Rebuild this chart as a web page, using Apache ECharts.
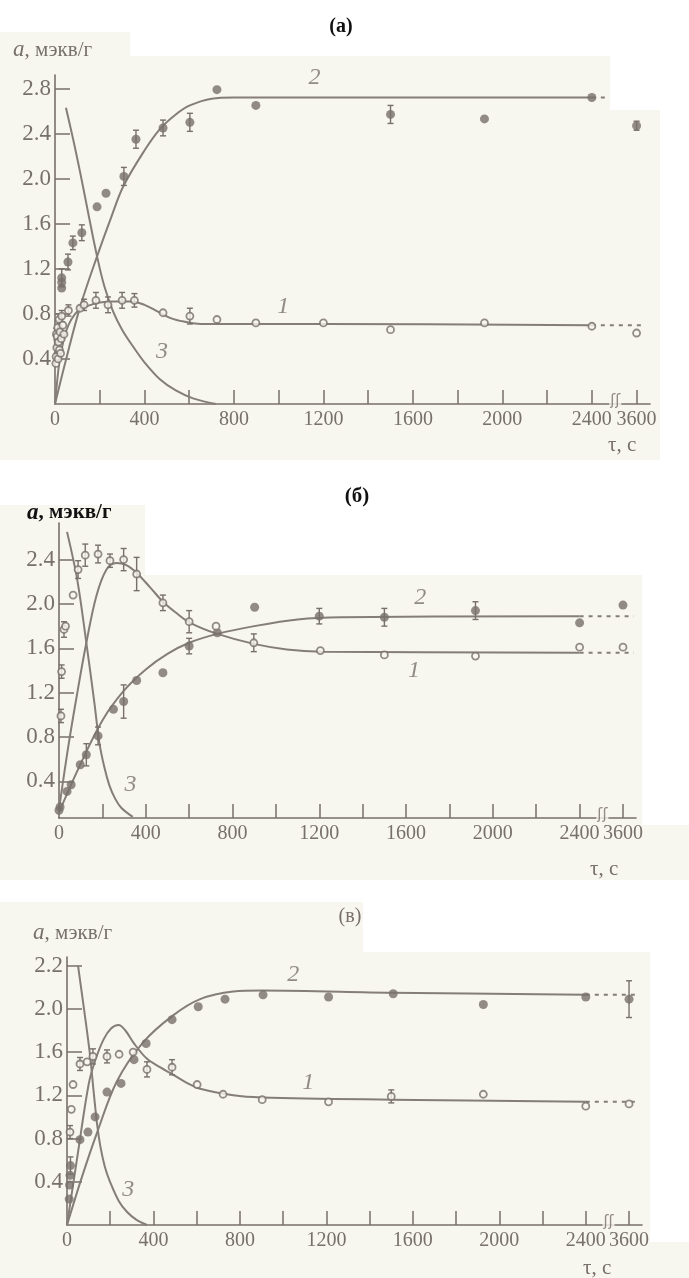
<!DOCTYPE html>
<html>
<head>
<meta charset="utf-8">
<script src="https://cdn.jsdelivr.net/npm/echarts@6/dist/echarts.min.js"></script>
<style>
  html, body { margin: 0; padding: 0; background: #fff; }
  #chart { width: 689px; height: 1278px; }
</style>
</head>
<body>
<div id="chart"></div>
<script>
// --- axis ticks / labels (3600 is drawn at the break position 2600)
const xTickValues = [200, 400, 600, 800, 1000, 1200, 1400, 1600, 1800, 2000, 2200, 2400, 2600];
const xLabelValues = [0, 400, 800, 1200, 1600, 2000, 2400, 2600];
const xLabelText = ['0', '400', '800', '1200', '1600', '2000', '2400', '3600'];
const yLabelsA = [0.4, 0.8, 1.2, 1.6, 2.0, 2.4, 2.8];
const yLabelsB = [0.4, 0.8, 1.2, 1.6, 2.0, 2.4];
const yLabelsV = [0.4, 0.8, 1.2, 1.6, 2.0, 2.4];
const yTextV = ['0.4', '0.8', '1.2', '1.6', '2.0', '2.2'];

// --- panel (a): fitted curves [t, a]
const aCurve1 = [[0, 0], [20, 0.38], [40, 0.58], [60, 0.7], [90, 0.8], [120, 0.85], [160, 0.88], [200, 0.9], [260, 0.91], [340, 0.91], [400, 0.88], [460, 0.82], [520, 0.76], [580, 0.73], [650, 0.71], [800, 0.71], [1200, 0.71], [2400, 0.7]];
const aCurve2 = [[0, 0], [50, 0.4], [112, 0.86], [188, 1.31], [250, 1.65], [305, 1.93], [400, 2.25], [469, 2.44], [540, 2.57], [603, 2.65], [700, 2.71], [800, 2.72], [1200, 2.72], [2400, 2.72]];
const aCurve3 = [[49, 2.63], [80, 2.36], [112, 2.06], [150, 1.68], [188, 1.31], [220, 1.05], [260, 0.82], [300, 0.66], [349, 0.51], [400, 0.37], [469, 0.22], [540, 0.12], [617, 0.05], [720, 0]];
const aExt1 = [[2400, 0.7], [2630, 0.7]];
const aExt2 = [[2400, 2.72], [2470, 2.72]];
// points [t, a, error]
const aOpen = [[4, 0.36, 0], [5, 0.42, 0], [6, 0.62, 0.05], [8, 0.5, 0.05], [10, 0.6, 0], [12, 0.68, 0.06], [14, 0.4, 0], [15, 0.55, 0], [18, 0.75, 0.05], [20, 0.48, 0], [22, 0.64, 0], [25, 0.45, 0], [28, 0.58, 0], [30, 0.78, 0.05], [35, 0.7, 0], [40, 0.62, 0], [60, 0.83, 0.05], [112, 0.85, 0], [130, 0.88, 0.05], [183, 0.92, 0.07], [237, 0.88, 0.07], [300, 0.92, 0.07], [355, 0.92, 0.06], [483, 0.81, 0], [603, 0.78, 0.07], [724, 0.75, 0], [898, 0.72, 0], [1200, 0.72, 0], [1500, 0.66, 0], [1920, 0.72, 0], [2400, 0.69, 0], [3600, 0.63, 0]];
const aFilled = [[30, 1.03, 0], [30, 1.08, 0], [30, 1.12, 0.08], [58, 1.26, 0.07], [80, 1.43, 0.06], [120, 1.52, 0.07], [188, 1.75, 0], [228, 1.87, 0], [308, 2.02, 0.08], [362, 2.35, 0.08], [483, 2.45, 0.07], [603, 2.5, 0.08], [724, 2.79, 0], [898, 2.65, 0], [1500, 2.57, 0.08], [1920, 2.53, 0], [2400, 2.72, 0], [3600, 2.47, 0.04]];
const aTags = [['2', 1160, 2.9], ['1', 1020, 0.86], ['3', 478, 0.46]];

// --- panel (б)
const bCurve1 = [[0, 0.15], [40, 0.68], [80, 1.15], [126, 1.65], [172, 2.07], [219, 2.31], [265, 2.37], [310, 2.35], [358, 2.28], [420, 2.15], [479, 2.02], [540, 1.92], [605, 1.83], [730, 1.73], [898, 1.64], [1050, 1.59], [1209, 1.57], [2400, 1.56]];
const bCurve2 = [[0, 0.12], [100, 0.56], [200, 0.95], [300, 1.22], [400, 1.41], [500, 1.55], [600, 1.65], [730, 1.73], [900, 1.8], [1100, 1.86], [1300, 1.88], [2400, 1.89]];
const bCurve3 = [[37, 2.65], [84, 2.22], [126, 1.65], [163, 1.11], [186, 0.75], [210, 0.52], [233, 0.36], [260, 0.24], [288, 0.16], [340, 0.08]];
const bExt1 = [[2400, 1.56], [2650, 1.56]];
const bExt2 = [[2400, 1.89], [2650, 1.89]];
const bOpen = [[9, 0.99, 0.06], [12, 1.39, 0.06], [23, 1.77, 0.07], [30, 1.8, 0], [65, 2.08, 0], [88, 2.31, 0.08], [121, 2.44, 0.1], [180, 2.45, 0.08], [235, 2.39, 0.06], [298, 2.4, 0.1], [358, 2.27, 0.15], [479, 2.01, 0.07], [600, 1.84, 0.1], [724, 1.8, 0], [898, 1.65, 0.08], [1205, 1.58, 0], [1500, 1.54, 0], [1920, 1.53, 0], [2400, 1.61, 0], [3600, 1.61, 0]];
const bFilled = [[0, 0.14, 0], [5, 0.17, 0], [37, 0.31, 0], [56, 0.37, 0], [98, 0.55, 0], [126, 0.64, 0.1], [180, 0.81, 0.08], [251, 1.05, 0], [298, 1.12, 0.15], [358, 1.31, 0], [479, 1.38, 0], [600, 1.62, 0.07], [730, 1.74, 0], [902, 1.97, 0], [1200, 1.89, 0.07], [1500, 1.88, 0.08], [1920, 1.94, 0.08], [2400, 1.83, 0], [3600, 1.99, 0]];
const bTags = [['2', 1665, 2.06], ['1', 1637, 1.4], ['3', 330, 0.37]];

// --- panel (в)
const vCurve1 = [[0, 0], [50, 0.66], [100, 1.3], [130, 1.52], [170, 1.72], [205, 1.82], [238, 1.85], [270, 1.8], [310, 1.68], [369, 1.54], [430, 1.46], [492, 1.39], [550, 1.32], [616, 1.26], [769, 1.2], [900, 1.18], [1500, 1.16], [2400, 1.14]];
const vCurve2 = [[0, 0], [70, 0.45], [140, 0.86], [231, 1.33], [352, 1.69], [491, 1.94], [616, 2.09], [769, 2.16], [900, 2.17], [1500, 2.15], [2400, 2.13]];
const vCurve3 = [[51, 2.4], [80, 1.98], [106, 1.58], [125, 1.2], [140, 0.92], [155, 0.72], [175, 0.54], [199, 0.4], [240, 0.22], [278, 0.12], [320, 0.05], [370, 0]];
const vExt1 = [[2400, 1.14], [2640, 1.14]];
const vExt2 = [[2400, 2.13], [2640, 2.13]];
const vOpen = [[14, 0.86, 0.06], [20, 1.07, 0], [28, 1.3, 0], [60, 1.49, 0.06], [93, 1.51, 0], [120, 1.56, 0.07], [185, 1.56, 0.06], [241, 1.58, 0], [306, 1.6, 0], [370, 1.44, 0.07], [486, 1.46, 0.07], [602, 1.3, 0], [722, 1.21, 0], [903, 1.16, 0], [1210, 1.14, 0], [1500, 1.19, 0.06], [1926, 1.21, 0], [2400, 1.1, 0], [3600, 1.12, 0]];
const vFilled = [[10, 0.24, 0], [12, 0.37, 0], [14, 0.46, 0], [16, 0.55, 0.08], [60, 0.79, 0], [97, 0.86, 0], [130, 1.0, 0], [185, 1.23, 0], [250, 1.31, 0], [310, 1.53, 0], [366, 1.68, 0], [486, 1.9, 0], [607, 2.02, 0], [731, 2.09, 0], [907, 2.13, 0], [1210, 2.11, 0], [1509, 2.14, 0], [1926, 2.04, 0], [2400, 2.11, 0], [3600, 2.09, 0.17]];
const vTags = [['2', 1047, 2.32], ['1', 1116, 1.32], ['3', 283, 0.33]];

const GRAY = '#78706a';
const LINE = '#857e78';
const CREAM = '#f7f6ef';
const FONT = 'Liberation Serif';

// 3600 sits just after the axis break
const pos = t => (t > 2400 ? 2600 : t);

const chart = echarts.init(document.getElementById('chart'));

function grid(left, top, width, height) {
    return { left: left, top: top, width: width, height: height, containLabel: false };
}

function xAxis(i) {
    return {
        gridIndex: i, type: 'value', min: 0, max: 2660,
        axisLine: { onZero: false, lineStyle: { color: GRAY, width: 1.6 } },
        axisTick: { inside: true, length: 14, customValues: xTickValues, lineStyle: { color: GRAY, width: 1.5 } },
        axisLabel: {
            customValues: xLabelValues, margin: 6, color: GRAY, fontFamily: FONT, fontSize: 20,
            formatter: v => xLabelText[xLabelValues.indexOf(v)]
        },
        splitLine: { show: false }
    };
}

function yAxis(i, min, max, labels, texts) {
    return {
        gridIndex: i, type: 'value', min: min, max: max,
        axisLine: { onZero: false, lineStyle: { color: GRAY, width: 1.6 } },
        axisTick: { inside: true, length: 15, customValues: labels, lineStyle: { color: GRAY, width: 1.5 } },
        axisLabel: {
            customValues: labels, margin: 4, color: GRAY, fontFamily: FONT, fontSize: 23,
            formatter: v => {
                const k = labels.findIndex(l => Math.abs(l - v) < 1e-6);
                return texts ? texts[k] : v.toFixed(1);
            }
        },
        splitLine: { show: false }
    };
}

function curve(i, data, dashed) {
    return {
        type: 'line', xAxisIndex: i, yAxisIndex: i, data: data, smooth: dashed ? false : 0.35,
        showSymbol: false, silent: true, z: 3,
        lineStyle: { color: LINE, width: 2, type: dashed ? [4, 5] : 'solid' }
    };
}

function errorBars(i, pts) {
    return {
        type: 'custom', xAxisIndex: i, yAxisIndex: i, z: 4, silent: true,
        data: pts.filter(p => p[2] > 0).map(p => [pos(p[0]), p[1], p[2]]),
        renderItem: (params, api) => {
            const x = api.value(0), y = api.value(1), e = api.value(2);
            const top = api.coord([x, y + e]);
            const bot = api.coord([x, y - e]);
            const st = { stroke: GRAY, lineWidth: 1.4 };
            return {
                type: 'group', children: [
                    { type: 'line', shape: { x1: top[0], y1: top[1], x2: bot[0], y2: bot[1] }, style: st },
                    { type: 'line', shape: { x1: top[0] - 3, y1: top[1], x2: top[0] + 3, y2: top[1] }, style: st },
                    { type: 'line', shape: { x1: bot[0] - 3, y1: bot[1], x2: bot[0] + 3, y2: bot[1] }, style: st }
                ]
            };
        }
    };
}

function points(i, pts, open) {
    return {
        type: 'scatter', xAxisIndex: i, yAxisIndex: i, z: 5, silent: true,
        data: pts.map(p => [pos(p[0]), p[1]]),
        symbol: 'circle', symbolSize: open ? 7 : 9,
        itemStyle: open ? { color: CREAM, borderColor: GRAY, borderWidth: 1.8 } : { color: GRAY }
    };
}

function tags(i, list, ymin) {
    return {
        type: 'scatter', xAxisIndex: i, yAxisIndex: i, z: 6, silent: true, symbolSize: 0,
        data: list.map(d => ({ name: d[0], value: [d[1], d[2]] }))
            .concat([{
                name: 'ʃʃ', value: [2505, ymin],
                label: { fontFamily: 'DejaVu Sans', fontStyle: 'normal', fontSize: 15, offset: [0, -3], backgroundColor: CREAM, padding: [0, 1] }
            }]),
        label: {
            show: true, position: 'inside', formatter: p => p.name,
            color: GRAY, fontFamily: FONT, fontStyle: 'italic', fontSize: 24
        }
    };
}

function panel(i, c1, c2, c3, e1, e2, open, filled, tg, ymin) {
    return [
        curve(i, c1), curve(i, c2), curve(i, c3),
        curve(i, e1, true), curve(i, e2, true),
        errorBars(i, open.concat(filled)),
        points(i, filled, false), points(i, open, true),
        tags(i, tg, ymin)
    ];
}

function txt(x, y, text, opts) {
    return {
        type: 'text', x: x, y: y, z: 10,
        style: Object.assign({
            text: text, fill: GRAY, font: '21px "' + FONT + '"',
            textAlign: 'left', textVerticalAlign: 'middle'
        }, opts || {})
    };
}

function yName(x, y, bold) {
    return {
        type: 'text', x: x, y: y, z: 10,
        style: {
            text: '{i|a}, мэкв/г', fill: bold ? '#111' : GRAY, textVerticalAlign: 'middle',
            fontFamily: FONT, fontSize: 21, fontWeight: bold ? 'bold' : 'normal',
            rich: { i: { fontStyle: 'italic', fontFamily: FONT, fontSize: 23, fontWeight: bold ? 'bold' : 'normal', fill: bold ? '#111' : GRAY } }
        }
    };
}

function white(x, y, w, h) {
    return { type: 'rect', z: -10, shape: { x: x, y: y, width: w, height: h }, style: { fill: '#ffffff' } };
}

const option = {
    animation: false,
    backgroundColor: CREAM,
    grid: [grid(55, 75, 595, 329), grid(59, 523, 577, 295), grid(67, 957, 575, 268)],
    xAxis: [xAxis(0), xAxis(1), xAxis(2)],
    yAxis: [
        yAxis(0, 0, 2.92, yLabelsA),
        yAxis(1, 0.07, 2.73, yLabelsB),
        yAxis(2, 0, 2.48, yLabelsV, yTextV)
    ],
    graphic: [
        white(0, 0, 689, 32), white(130, 32, 559, 24), white(610, 56, 79, 54), white(660, 110, 29, 350),
        white(0, 460, 689, 45), white(145, 505, 544, 70), white(642, 575, 47, 250),
        white(0, 880, 689, 22), white(363, 902, 326, 50), white(650, 952, 39, 290),
        txt(341, 27, '(a)', { fill: '#111', font: 'bold 20px "' + FONT + '"', textAlign: 'center' }),
        yName(13, 50, false),
        txt(608, 445, 'τ, c'),
        txt(357, 497, '(б)', { fill: '#111', font: 'bold 21px "' + FONT + '"', textAlign: 'center' }),
        yName(27, 513, true),
        txt(590, 869, 'τ, c'),
        txt(350, 917, '(в)', { font: '20px "' + FONT + '"', textAlign: 'center' }),
        yName(33, 933, false),
        txt(583, 1268, 'τ, c')
    ],
    series: []
        .concat(panel(0, aCurve1, aCurve2, aCurve3, aExt1, aExt2, aOpen, aFilled, aTags, 0))
        .concat(panel(1, bCurve1, bCurve2, bCurve3, bExt1, bExt2, bOpen, bFilled, bTags, 0.07))
        .concat(panel(2, vCurve1, vCurve2, vCurve3, vExt1, vExt2, vOpen, vFilled, vTags, 0))
};

chart.setOption(option);
</script>
</body>
</html>
